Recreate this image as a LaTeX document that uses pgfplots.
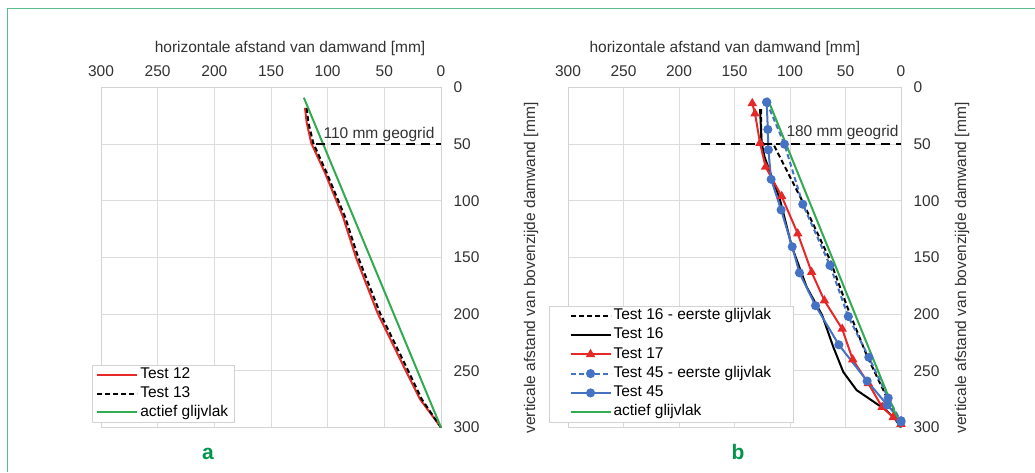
\documentclass[border=0pt]{standalone}
\usepackage{fontspec}
\setmainfont{Liberation Sans}
\usepackage{pgfplots}
\pgfplotsset{compat=1.18}

\definecolor{framegreen}{RGB}{90,190,140}
\definecolor{lblgreen}{RGB}{0,150,75}
\definecolor{grn}{RGB}{50,170,80}
\definecolor{rd}{RGB}{230,40,40}
\definecolor{bl}{RGB}{70,114,196}
\definecolor{gridc}{RGB}{220,220,220}
\definecolor{txt}{RGB}{50,50,50}

\newcommand{\fs}{\fontsize{15.5}{18}\selectfont}

\pgfplotsset{
  panel/.style={
    scale only axis, height=340pt,
    xmin=0, xmax=300, ymin=0, ymax=300,
    x dir=reverse, y dir=reverse,
    xtick={0,50,...,300}, ytick={0,50,...,300},
    xticklabel pos=top, yticklabel pos=right,
    grid=major, major grid style={gridc, line width=0.8pt},
    axis line style={draw=gridc!90!gray, line width=0.8pt},
    major tick length=0pt,
    /pgf/number format/assume math mode=true,
    tick label style={font=\fs, text=txt},
    xticklabel style={yshift=7pt},
    yticklabel style={xshift=9pt},
    label style={font=\fs, text=txt},
    xlabel={horizontale afstand van damwand [mm]},
    clip=false,
    legend cell align=left,
    legend image code/.code={\draw[mark repeat=2,mark phase=2] plot coordinates {(0pt,0pt) (20pt,0pt) (40pt,0pt)};},
  },
}

\begin{document}
\begin{tikzpicture}
\useasboundingbox (0pt,0pt) rectangle (1035pt,-472pt);
\draw[framegreen, line width=1.6pt] (7.5pt,-472pt) -- (7.5pt,-8.5pt) -- (1035pt,-8.5pt);

% panel a
\begin{axis}[panel, at={(101pt,-87.5pt)}, anchor=north west, width=340pt,
  xlabel style={at={(axis description cs:0.556,1)}, anchor=center, yshift=39.5pt},
  legend style={at={(axis description cs:-0.026,0.016)}, anchor=south west,
    draw=gridc!90!gray, fill=white, font=\fs, inner xsep=4pt, inner ysep=0pt,
    nodes={inner xsep=2pt, inner ysep=2.2pt, text height=11pt, text depth=3.5pt}}]
\addplot[rd, line width=2pt] coordinates {
  (120,18) (118.5,31) (114.5,49) (102.5,75) (86.5,114) (75,150)
  (56,199) (31,250) (18.5,275) (0,300)};
\addlegendentry{Test 12}
\addplot[black, line width=2pt, dash pattern=on 5pt off 3pt] coordinates {
  (118.5,18) (117,31) (112.7,49) (101,75) (84.7,114) (73,150)
  (53.8,199) (28.9,250) (17,275) (0,300)};
\addlegendentry{Test 13}
\addplot[grn, line width=2pt] coordinates {(121,9) (0,300)};
\addlegendentry{actief glijvlak}
\addplot[black, line width=2.4pt, dash pattern=on 9pt off 6pt, forget plot] coordinates {(110,50) (0,50)};
\node[font=\fs, text=txt] at (axis cs:54.7,41.5) {110 mm geogrid};
\end{axis}

% panel b
\begin{axis}[panel, at={(568pt,-87.5pt)}, anchor=north west, width=333pt,
  xlabel style={at={(axis description cs:0.471,1)}, anchor=center, yshift=39.5pt},
  legend style={at={(axis description cs:-0.056,0.016)}, anchor=south west,
    draw=gridc!90!gray, fill=white, font=\fs, inner xsep=20pt, inner ysep=0pt,
    nodes={inner xsep=2pt, inner ysep=2.4pt, text height=11pt, text depth=3.5pt}}]
\addplot[black, line width=2pt, dash pattern=on 5pt off 3pt] coordinates {
  (126,19) (126,49) (115,50) (89.5,99) (64,152) (47.5,196) (31,236)
  (17.4,264) (7,285) (0,300)};
\addlegendentry{Test 16 - eerste glijvlak}
\addplot[black, line width=2pt] coordinates {
  (127,19) (125.5,49) (123,61) (116,80) (109,99) (98.5,140) (85,176)
  (71,201) (61,229) (52,251) (40,267) (25,277) (13,285) (5,293) (0,300)};
\addlegendentry{Test 16}
\addplot[rd, line width=2pt, mark=triangle*, mark size=3.5pt] coordinates {
  (134,14) (131.5,23) (127,49) (122,70) (107.5,96) (93,129) (80.5,163)
  (69,188) (53,213) (43.5,240) (29.5,261) (17,282) (7,291) (0,297)};
\addlegendentry{Test 17}
\addplot[bl, line width=2pt, dash pattern=on 5pt off 3pt, mark=*, mark size=3.5pt, mark options={solid}] coordinates {
  (121,13) (105,50) (88.5,103) (64,157) (47.5,202) (29,238) (11.5,274) (0,295)};
\addlegendentry{Test 45 - eerste glijvlak}
\addplot[bl, line width=2pt, mark=*, mark size=3.5pt] coordinates {
  (121,13) (120,37) (119.5,55) (117,81) (108,108) (98,140.5) (91.5,163.5)
  (77,192.5) (56,227) (30.5,259) (12.5,280) (0,294)};
\addlegendentry{Test 45}
\addplot[grn, line width=2pt] coordinates {(120.5,9) (0,300)};
\addlegendentry{actief glijvlak}
\addplot[black, line width=2.4pt, dash pattern=on 9pt off 6pt, forget plot] coordinates {(180,50) (0,50)};
\node[font=\fs, text=txt] at (axis cs:52.7,40) {180 mm geogrid};
\end{axis}
\node[font=\fs, text=txt, rotate=90] at (531pt,-268pt) {verticale afstand van bovenzijde damwand [mm]};
\node[font=\fs, text=txt, rotate=90] at (962pt,-268pt) {verticale afstand van bovenzijde damwand [mm]};

\node[font=\fontsize{21}{24}\selectfont\bfseries, text=lblgreen, anchor=base] at (208pt,-459pt) {a};
\node[font=\fontsize{21}{24}\selectfont\bfseries, text=lblgreen, anchor=base] at (738pt,-459pt) {b};
\end{tikzpicture}
\end{document}
